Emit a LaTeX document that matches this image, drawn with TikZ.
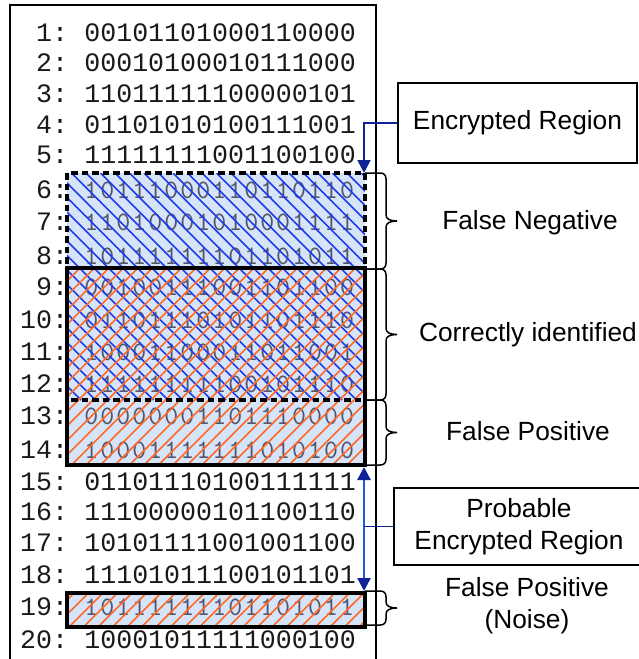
\documentclass[tikz,border=0pt]{standalone}
\usepackage{fontspec}
\setmainfont{Liberation Sans}
\newfontfamily\rowfont{Liberation Mono}
\newfontfamily\dimfont{lmmono10-regular.otf}[LetterSpace=7.6]
\usetikzlibrary{arrows.meta,calc}

\definecolor{cellfill}{RGB}{214,228,250}
\definecolor{hatchblue}{RGB}{30,60,235}
\definecolor{hatchorange}{RGB}{255,105,35}
\definecolor{navy}{RGB}{15,35,150}
\definecolor{arrowblue}{RGB}{25,90,225}
\definecolor{dimdigit}{RGB}{85,85,105}

% diagonal hatching inside the box (#1,#2)-(#3,#4), lines falling to the right
\newcommand\hatchdown[5]{%
  \begin{scope}
    \clip (#1,#2) rectangle (#3,#4);
    \pgfmathtruncatemacro\hatchlo{floor((#1-#4)/14.5)-1}
    \pgfmathtruncatemacro\hatchhi{ceil((#3-#2)/14.5)+1}
    \foreach \k in {\hatchlo,...,\hatchhi}{\draw[#5] ({14.5*\k+#2},#2) -- ({14.5*\k+#4},#4);}
  \end{scope}}
% diagonal hatching inside the box (#1,#2)-(#3,#4), lines rising to the right
\newcommand\hatchup[5]{%
  \begin{scope}
    \clip (#1,#2) rectangle (#3,#4);
    \pgfmathtruncatemacro\hatchlo{floor((#1+#2)/14.5)-1}
    \pgfmathtruncatemacro\hatchhi{ceil((#3+#4)/14.5)+1}
    \foreach \k in {\hatchlo,...,\hatchhi}{\draw[#5] ({14.5*\k-#2},#2) -- ({14.5*\k-#4},#4);}
  \end{scope}}
% curly brace to the right of the block between heights #1 and #2
\newcommand\sidebrace[2]{%
  \pgfmathsetmacro\bmid{(#1+#2)/2}
  \draw[bracepen] (365,#1) -- (380,#1) .. controls (384,#1) and (386,#1+2) .. (386,#1+6)
    -- (386,\bmid-6) .. controls (386,\bmid-2) and (390,\bmid) .. (397,\bmid)
    .. controls (390,\bmid) and (386,\bmid+2) .. (386,\bmid+6)
    -- (386,#2-6) .. controls (386,#2-2) and (384,#2) .. (380,#2) -- (365,#2);}

\begin{document}
\begin{tikzpicture}[x=1pt,y=-1pt,
  region/.style={fill=cellfill, draw=none, inner sep=0pt, outer sep=0pt, minimum width=298pt},
  rowlabel/.style={font=\rowfont\fontsize{26.6}{26.6}\selectfont, anchor=east, inner sep=0pt, text=black!90},
  rowbits/.style={font=\rowfont\fontsize{26.6}{26.6}\selectfont, anchor=west, inner sep=0pt, text=black!90},
  dimbits/.style={font=\dimfont\fontsize{26.6}{26.6}\selectfont, anchor=west, inner sep=0pt, text=dimdigit},
  bluehatch/.style={hatchblue, line width=1.6pt},
  orangehatch/.style={hatchorange, line width=1.6pt},
  dashpen/.style={line width=3.8pt, dash pattern=on 6.5pt off 4pt},
  solidpen/.style={line width=3.6pt},
  bracepen/.style={line width=1.5pt},
  callout/.style={draw, line width=1.5pt, inner sep=0pt, font=\fontsize{26.3}{32}\selectfont, align=center},
  caption/.style={font=\fontsize{26.3}{32}\selectfont, align=center, inner sep=0pt},
]
\useasboundingbox (0,0) rectangle (639,659);

% outer frame of the listing
\draw[line width=2pt] (10,659) -- (10,5) -- (376,5) -- (376,659);

% shaded regions
\node[region, minimum height=227pt] (enc) at (216,286.5) {};
\node[region, minimum height=197pt] (prob) at (216,366.5) {};
\node[region, minimum height=34pt] (noise) at (216,610) {};

% line numbers and bit strings
\foreach \i/\y/\bits in {1/33/00101101000110000, 2/63/00010100010111000,
  3/94/11011111100000101, 4/125/01101010100111001, 5/155/11111111001100100,
  15/482/01101110100111111, 16/512/11100000101100110, 17/543/10101111001001100,
  18/575/11101011100101101, 20/640/10001011111000100}{
  \node[rowlabel] (l\i) at (68.2,\y) {\i:};
  \node[rowbits] (b\i) at (84.2,\y) {\bits};
}
\foreach \i/\y/\bits in {6/190/10111000110110110, 7/222/11010001010001111,
  8/256/10111111101101011, 9/287/00100111001101100, 10/320/01101110101101110,
  11/352/10001100011011001, 12/384/11111111100101110, 13/416/00000001101110000,
  14/450/10001111111010100, 19/607/10111111101101011}{
  \node[rowlabel] (l\i) at (68.2,\y) {\i:};
  \node[dimbits] (b\i) at (84.2,\y) {\bits};
}

% hatching
\hatchdown{67}{173}{365}{400}{bluehatch}
\hatchup{67}{268}{365}{465}{orangehatch}
\hatchup{67}{593}{365}{627}{orangehatch}

% region outlines
\draw[dashpen] (enc.north west) rectangle (enc.south east);
\draw[solidpen] (prob.north west) rectangle (prob.south east);
\draw[solidpen] (noise.north west) rectangle (noise.south east);

% braces
\sidebrace{173}{269}
\sidebrace{269}{400}
\sidebrace{400}{465}
\sidebrace{591}{625}

% captions
\node[callout, minimum width=239pt, minimum height=80pt] (enclabel) at (517.5,123) {Encrypted Region};
\node[caption] (fnlabel) at (530,223) {False Negative};
\node[caption] (cilabel) at (528,335) {Correctly identified};
\node[caption] (fplabel) at (528,431) {False Positive};
\node[callout, minimum width=250pt, minimum height=77pt] (problabel) at (519,526.5) {Probable\\Encrypted Region};
\node[caption] (noiselabel) at (527,606) {False Positive\\(Noise)};

% connectors
\draw[navy, line width=1.6pt, -{Triangle[width=13pt,length=13pt]}]
  (enclabel.west) -| ($(enc.north east)+(-1,0)$);
\coordinate (dtop) at ($(prob.south east)+(-1,2)$);
\coordinate (dbot) at ($(noise.north east)+(-1,-2)$);
\draw[arrowblue, line width=2.5pt,
  {Triangle[width=13pt,length=13pt,color=navy]}-{Triangle[width=13pt,length=13pt,color=navy]}]
  (dtop) -- (dbot);
\draw[navy, line width=1.3pt] (problabel.west) -- (problabel.west -| dtop);
\end{tikzpicture}
\end{document}
